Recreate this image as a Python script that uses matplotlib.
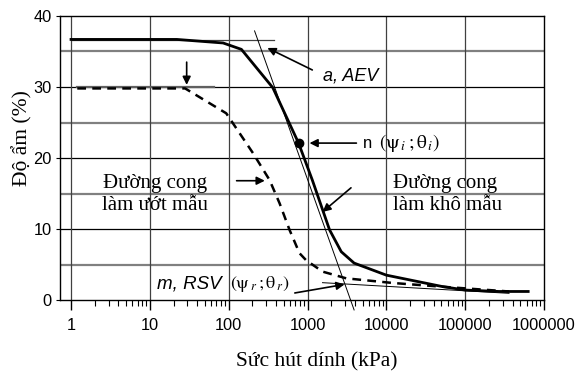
import matplotlib
matplotlib.use("Agg")
import matplotlib.pyplot as plt
from matplotlib.ticker import FixedLocator, NullFormatter

# drying curve (duong cong lam kho mau)
dry_suction = [1, 22, 85, 145, 363, 770, 1150, 1900, 2680, 3900, 10000, 51000, 100000, 270000, 630000]
dry_water = [36.7, 36.7, 36.2, 35.3, 29.9, 22.1, 16.9, 9.9, 6.8, 5.2, 3.5, 1.9, 1.4, 1.2, 1.2]

# wetting curve (duong cong lam uot mau)
wet_suction = [1.2, 28, 93, 203, 330, 443, 590, 790, 960, 1550, 3100, 12000, 47000, 360000]
wet_water = [29.8, 29.8, 26.3, 20.7, 16.9, 13.6, 9.9, 6.6, 5.6, 4.0, 3.05, 2.4, 1.9, 1.2]

# construction lines
aev_x, aev_y = [1, 380], [36.6, 36.6]
wet_top_x, wet_top_y = [1.2, 66], [30.0, 30.0]
steep_x, steep_y = [213, 3900], [37.9, -1.4]
resid_x, resid_y = [1550, 360000], [2.44, 0.94]
inflection = (770, 22.1)

x_ticks = [1, 10, 100, 1000, 10000, 100000, 1000000]
x_ticklabels = ["1", "10", "100", "1000", "10000", "100000", "1000000"]
y_ticks = [0, 10, 20, 30, 40]

serif = "Liberation Serif"
sans = "Liberation Sans"
plt.rcParams["font.family"] = [sans, "DejaVu Sans"]
plt.rcParams["mathtext.fontset"] = "stix"

fig = plt.figure(figsize=(5.87, 3.74), dpi=100)
ax = fig.add_axes([60 / 587, 74 / 374, 484 / 587, 284 / 374])
ax.set_xscale("log")
ax.set_xlim(10 ** -0.14, 1e6)
ax.set_ylim(0, 40)

# grid
for v in [5, 15, 25, 35]:
    ax.axhline(v, color="#808080", lw=1.6, zorder=1)
for v in [10, 20, 30]:
    ax.axhline(v, color="black", lw=0.9, zorder=1)
for v in x_ticks[:-1]:
    ax.axvline(v, color="#404040", lw=0.9, zorder=1)

# curves
ax.plot(dry_suction, dry_water, color="black", lw=2.0, zorder=4)
ax.plot(wet_suction, wet_water, color="black", lw=1.8, ls=(0, (3.5, 2.5)), zorder=4)

# construction lines
ax.plot(aev_x, aev_y, color="#404040", lw=0.9, zorder=3)
ax.plot(wet_top_x, wet_top_y, color="#606060", lw=1.6, zorder=3)
ax.plot(steep_x, steep_y, color="black", lw=0.7, zorder=3, clip_on=False)
ax.plot(resid_x, resid_y, color="black", lw=0.7, zorder=3)
ax.plot(*inflection, "o", color="black", ms=6, zorder=5)

arrow = dict(arrowstyle="-|>", color="black", lw=1.2, mutation_scale=12, shrinkA=0, shrinkB=0)
ax.annotate("", xy=(310, 35.5), xytext=(1150, 32.4), arrowprops=arrow)
ax.annotate("", xy=(29.3, 30.3), xytext=(29.3, 33.5), arrowprops=arrow)
ax.annotate("", xy=(1060, 22.1), xytext=(4170, 22.1), arrowprops=arrow)
ax.annotate("", xy=(287, 16.8), xytext=(126, 16.8), arrowprops=arrow)
ax.annotate("", xy=(1550, 12.4), xytext=(3560, 15.8), arrowprops=arrow)
ax.annotate("", xy=(2950, 2.2), xytext=(690, 0.99), arrowprops=arrow)

# labels
ax.text(1550, 31.5, "a, AEV", fontsize=13, style="italic", va="center", ha="left")
ax.text(5000, 22.1, "n", fontsize=12, va="center", ha="left")
ax.text(8100, 22.1, r"$\left(\mathrm{\psi}_{\,i}\,;\mathrm{\theta}_{\,i}\right)$", fontsize=14,
        va="center", ha="left")
ax.text(12.3, 2.3, "m, RSV", fontsize=13.5, style="italic", va="center", ha="left")
ax.text(103, 2.3, r"$\left(\mathrm{\psi}_{\,r}\,;\mathrm{\theta}_{\,r}\right)$", fontsize=13,
        va="center", ha="left")
ax.text(11.6, 14.9, "Đường cong\nlàm ướt mẫu", family=serif, fontsize=15,
        ha="center", va="center", linespacing=1.2)
ax.text(12000, 14.9, "Đường cong\nlàm khô mẫu", family=serif, fontsize=15,
        ha="left", va="center", linespacing=1.2)

# ticks
ax.xaxis.set_major_locator(FixedLocator(x_ticks))
ax.set_xticklabels(x_ticklabels)
minors = [m * 10 ** d for d in range(0, 6) for m in range(2, 10)]
ax.xaxis.set_minor_locator(FixedLocator(minors))
ax.xaxis.set_minor_formatter(NullFormatter())
ax.tick_params(axis="x", which="major", direction="out", length=7, width=1, labelsize=11.8, pad=6)
ax.tick_params(axis="x", which="minor", direction="out", length=4, width=0.8)
ax.set_yticks(y_ticks)
ax.tick_params(axis="y", direction="out", length=3, width=0.8, labelsize=11.8, pad=3)
for s in ax.spines.values():
    s.set_linewidth(1.0)

fig.text(317 / 587, 1 - 362 / 374, "Sức hút dính (kPa)", family=serif, fontsize=15.5,
         ha="center", va="center")
fig.text(22 / 587, 1 - 138 / 374, "Độ ẩm (%)", family=serif, fontsize=15.5,
         ha="center", va="center", rotation=90)

fig.savefig("out.png", dpi=100)
